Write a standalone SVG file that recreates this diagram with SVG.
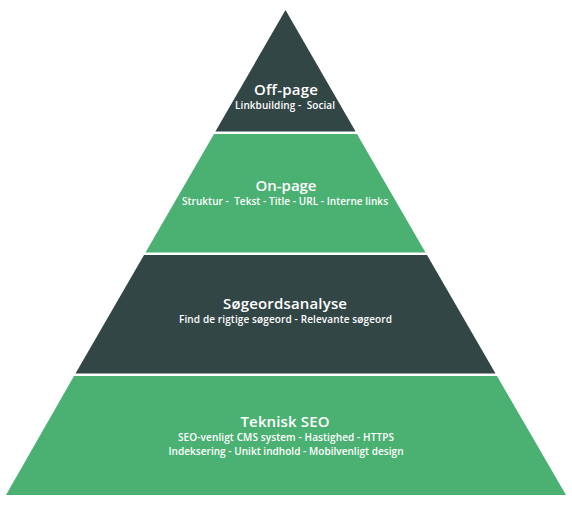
<svg xmlns="http://www.w3.org/2000/svg" width="572" height="508" viewBox="0 0 572 508">
<style>
.dark{fill:#334646}
.green{fill:#4bb172}
.t{font-family:"Open Sans","Noto Sans",sans-serif;font-weight:600;fill:#ffffff;text-anchor:middle}
.h{font-size:15px}
.s{font-size:10px}
</style>
<rect width="572" height="508" fill="#ffffff"/>
<g id="offpage">
<polygon class="dark" points="285.5,10 355.6,131.5 215.4,131.5"/>
<text class="t h" x="286" y="95" textLength="64" lengthAdjust="spacing">Off-page</text>
<text class="t s" x="285" y="109" xml:space="preserve" textLength="100" lengthAdjust="spacing">Linkbuilding -  Social</text>
</g>
<g id="onpage">
<polygon class="green" points="214,134 357,134 425.5,252.5 145.5,252.5"/>
<text class="t h" x="286" y="191" textLength="61" lengthAdjust="spacing">On-page</text>
<text class="t s" x="285" y="205" xml:space="preserve" textLength="206" lengthAdjust="spacing">Struktur -  Tekst - Title - URL - Interne links</text>
</g>
<g id="soegeord">
<polygon class="dark" points="144,255 427,255 495.5,373.5 75.5,373.5"/>
<text class="t h" x="285" y="309" textLength="124" lengthAdjust="spacing">Søgeordsanalyse</text>
<text class="t s" x="285.5" y="323" textLength="213" lengthAdjust="spacing">Find de rigtige søgeord - Relevante søgeord</text>
</g>
<g id="teknisk">
<polygon class="green" points="74,376 497,376 566,495 6,495"/>
<text class="t h" x="285" y="427" textLength="89" lengthAdjust="spacing">Teknisk SEO</text>
<text class="t s" x="286" y="441" textLength="216" lengthAdjust="spacing">SEO-venligt CMS system - Hastighed - HTTPS</text>
<text class="t s" x="286" y="455" textLength="235" lengthAdjust="spacing">Indeksering - Unikt indhold - Mobilvenligt design</text>
</g>
<g id="connectors"/>
</svg>
